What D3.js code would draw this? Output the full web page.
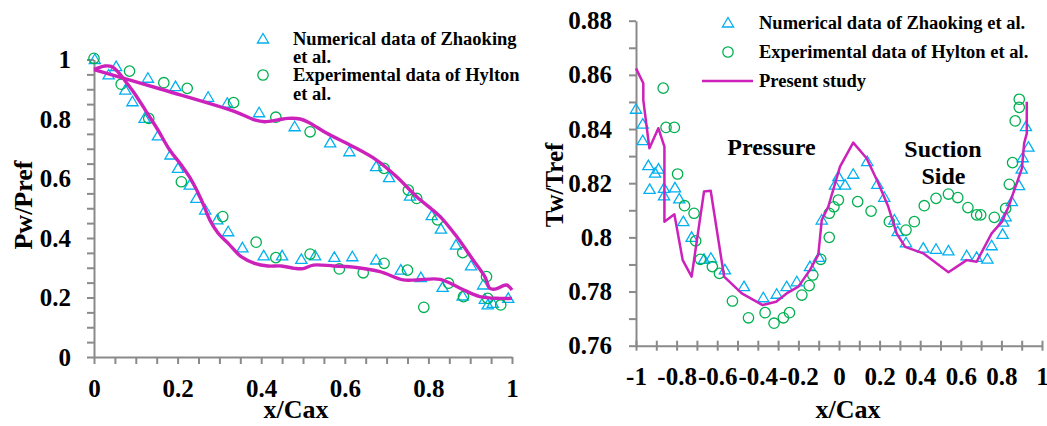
<!DOCTYPE html>
<html><head><meta charset="utf-8">
<script src="https://cdn.jsdelivr.net/npm/d3@7"></script>
<style>
body{margin:0;background:#fff;}
svg{display:block;}
text{font-family:"Liberation Serif","Times New Roman",serif;font-weight:bold;fill:#000;}
</style></head><body>
<svg id="chart" width="1047" height="426"></svg>
<script>
// ---------- Left panel data: Pw/Pref vs x/Cax ----------
const leftNumerical = [[0.002,1.0],[0.035,0.948],[0.053,0.976],[0.075,0.897],[0.092,0.858],[0.121,0.802],[0.129,0.937],[0.153,0.743],[0.183,0.679],[0.195,0.909],[0.201,0.634],[0.229,0.578],[0.245,0.533],[0.266,0.494],[0.273,0.873],[0.295,0.461],[0.319,0.853],[0.321,0.421],[0.355,0.367],[0.395,0.821],[0.406,0.340],[0.450,0.340],[0.480,0.774],[0.496,0.328],[0.529,0.340],[0.565,0.720],[0.575,0.335],[0.611,0.690],[0.618,0.337],[0.675,0.640],[0.675,0.326],[0.706,0.603],[0.734,0.292],[0.756,0.541],[0.782,0.267],[0.808,0.475],[0.830,0.430],[0.834,0.234],[0.866,0.376],[0.882,0.205],[0.902,0.306],[0.931,0.242],[0.935,0.194],[0.942,0.175],[0.954,0.180],[0.991,0.197]];
const leftExperimental = [[0.0,1.004],[0.085,0.961],[0.065,0.917],[0.167,0.922],[0.223,0.903],[0.334,0.855],[0.131,0.802],[0.435,0.806],[0.209,0.589],[0.308,0.472],[0.388,0.386],[0.435,0.334],[0.517,0.757],[0.694,0.634],[0.752,0.561],[0.772,0.533],[0.822,0.461],[0.882,0.351],[0.939,0.270],[0.517,0.346],[0.587,0.296],[0.644,0.283],[0.694,0.315],[0.750,0.292],[0.848,0.248],[0.884,0.203],[0.789,0.167],[0.942,0.197],[0.973,0.175]];
const leftPresentSuction = [[0,0.966],[0.026,0.978],[0.041,0.977],[0.057,0.959],[0.073,0.931],[0.097,0.886],[0.125,0.825],[0.153,0.763],[0.181,0.696],[0.209,0.645],[0.233,0.595],[0.257,0.528],[0.277,0.461],[0.297,0.416],[0.321,0.382],[0.352,0.337],[0.384,0.315],[0.416,0.306],[0.448,0.306],[0.480,0.298],[0.500,0.297],[0.525,0.309],[0.573,0.306],[0.628,0.301],[0.684,0.287],[0.740,0.259],[0.772,0.259],[0.828,0.261],[0.876,0.231],[0.923,0.203],[0.971,0.197],[1.0,0.197]];
const leftPresentPressure = [[0,0.966],[0.161,0.900],[0.337,0.825],[0.384,0.797],[0.408,0.791],[0.440,0.797],[0.464,0.802],[0.493,0.800],[0.517,0.786],[0.557,0.752],[0.612,0.713],[0.676,0.662],[0.724,0.606],[0.772,0.539],[0.828,0.472],[0.868,0.404],[0.907,0.326],[0.935,0.270],[0.947,0.231],[0.959,0.228],[0.987,0.242],[1.0,0.225]];
const leftXTickLabels = [0,0.2,0.4,0.6,0.8,1];
const leftYTickLabels = [0,0.2,0.4,0.6,0.8,1];

// ---------- Right panel data: Tw/Tref vs x/Cax ----------
const rightNumerical = [[-1.0,0.8473],[-0.967,0.8418],[-0.967,0.8357],[-0.939,0.8265],[-0.906,0.8237],[-0.889,0.8252],[-0.933,0.8177],[-0.862,0.8181],[-0.862,0.8153],[-0.808,0.8183],[-0.787,0.8142],[-0.767,0.8058],[-0.726,0.8000],[-0.665,0.7919],[-0.631,0.7923],[-0.562,0.7880],[-0.468,0.7818],[-0.373,0.7777],[-0.307,0.7790],[-0.258,0.7818],[-0.208,0.7836],[-0.143,0.7892],[-0.099,0.7926],[-0.085,0.8064],[-0.020,0.8193],[-0.003,0.8224],[0.030,0.8193],[0.070,0.8233],[0.139,0.8280],[0.189,0.8196],[0.223,0.8148],[0.273,0.8064],[0.289,0.8021],[0.330,0.7980],[0.415,0.7960],[0.478,0.7956],[0.539,0.7950],[0.629,0.7932],[0.678,0.7926],[0.731,0.7920],[0.752,0.7969],[0.806,0.8011],[0.809,0.8056],[0.821,0.8076],[0.851,0.8132],[0.887,0.8191],[0.900,0.8252],[0.905,0.8294],[0.933,0.8333],[0.921,0.8409]];
const rightExperimental = [[-0.866,0.8551],[-0.852,0.8406],[-0.811,0.8406],[-0.795,0.8234],[-0.761,0.8117],[-0.714,0.8089],[-0.706,0.7987],[-0.683,0.7919],[-0.624,0.7892],[-0.589,0.7867],[-0.525,0.7765],[-0.446,0.7703],[-0.364,0.7722],[-0.320,0.7683],[-0.274,0.7703],[-0.244,0.7722],[-0.183,0.7787],[-0.147,0.7822],[-0.129,0.7861],[-0.090,0.7919],[-0.048,0.8000],[-0.048,0.8089],[-0.025,0.8113],[-0.003,0.8138],[0.092,0.8132],[0.158,0.8097],[0.248,0.8058],[0.330,0.8027],[0.371,0.8058],[0.420,0.8117],[0.478,0.8144],[0.539,0.8160],[0.585,0.8147],[0.635,0.8110],[0.678,0.8083],[0.698,0.8083],[0.765,0.8074],[0.821,0.8107],[0.839,0.8196],[0.855,0.8276],[0.868,0.8430],[0.888,0.8480],[0.888,0.8510]];
const rightPresent = [[-1.0,0.8624],[-0.964,0.8569],[-0.964,0.8507],[-0.934,0.8329],[-0.890,0.8403],[-0.860,0.8335],[-0.860,0.8058],[-0.811,0.8085],[-0.770,0.7916],[-0.726,0.7855],[-0.665,0.8169],[-0.632,0.8172],[-0.566,0.7855],[-0.479,0.7793],[-0.376,0.7750],[-0.310,0.7762],[-0.258,0.7793],[-0.200,0.7818],[-0.143,0.7880],[-0.102,0.7935],[-0.085,0.8064],[-0.053,0.8113],[0.005,0.8261],[0.070,0.8350],[0.136,0.8292],[0.194,0.8200],[0.243,0.8113],[0.284,0.8015],[0.326,0.7965],[0.415,0.7941],[0.539,0.7871],[0.629,0.7916],[0.678,0.7910],[0.752,0.8015],[0.803,0.8058],[0.835,0.8113],[0.901,0.8255],[0.912,0.8347],[0.925,0.8384],[0.925,0.8501]];
const rightXTickLabels = [-1,-0.8,-0.6,-0.4,-0.2,0,0.2,0.4,0.6,0.8,1];
const rightYTickLabels = [0.76,0.78,0.8,0.82,0.84,0.86,0.88];

const legendLabels = ["Numerical data of Zhaoking et al.","Experimental data of Hylton et al.","Present study"];

// ---------- styles ----------
const C_TRI = "#00B0F0", C_CIR = "#00B050", C_LINE = "#CC22BB", C_AXIS = "#8a8a8a";
const svg = d3.select("#chart");
const fmt = d => String(+d.toFixed(2));

function triPath(){ return "M0,-5.5L5.6,4L-5.6,4Z"; }

function styleAxis(g){
  g.select(".domain").attr("stroke", C_AXIS).attr("stroke-width", 2);
  g.selectAll(".tick line").attr("stroke", C_AXIS).attr("stroke-width", 2);
}
function styleLabels(g){
  g.select(".domain").remove();
  g.selectAll(".tick line").remove();
  g.selectAll("text").style("font-size","25px").style("font-family",'"Liberation Serif",serif').style("font-weight","bold").attr("fill","#000");
}

// ---------- LEFT PANEL ----------
const xL = d3.scaleLinear().domain([0,1]).range([94,512]);
const yL = d3.scaleLinear().domain([0,1]).range([357,59.5]);
const L = svg.append("g");

L.append("g").attr("transform","translate(0,357)")
  .call(d3.axisBottom(xL).tickValues(d3.range(0,1.0001,0.05)).tickSize(7).tickSizeOuter(0).tickFormat(""))
  .call(styleAxis);
L.append("g").attr("transform","translate(94,0)")
  .call(d3.axisLeft(yL).tickValues(d3.range(0,1.0001,0.05)).tickSize(7).tickSizeOuter(0).tickFormat(""))
  .call(styleAxis);
L.append("g").attr("transform","translate(0,357)")
  .call(d3.axisBottom(xL).tickValues(leftXTickLabels).tickSize(0).tickPadding(22).tickFormat(fmt))
  .call(styleLabels);
L.append("g").attr("transform","translate(94,0)")
  .call(d3.axisLeft(yL).tickValues(leftYTickLabels).tickSize(0).tickPadding(23).tickFormat(fmt))
  .call(styleLabels);

L.append("g").selectAll("path").data(leftNumerical).join("path")
  .attr("d", triPath()).attr("transform", d => `translate(${xL(d[0])},${yL(d[1])})`)
  .attr("fill","none").attr("stroke",C_TRI).attr("stroke-width",1.3);
L.append("g").selectAll("circle").data(leftExperimental).join("circle")
  .attr("cx", d => xL(d[0])).attr("cy", d => yL(d[1])).attr("r",5.2)
  .attr("fill","none").attr("stroke",C_CIR).attr("stroke-width",1.3);
const lineL = d3.line().x(d => xL(d[0])).y(d => yL(d[1])).curve(d3.curveCatmullRom.alpha(0.5));
[leftPresentSuction, leftPresentPressure].forEach(s => {
  L.append("path").attr("d", lineL(s)).attr("fill","none").attr("stroke",C_LINE).attr("stroke-width",3.4).attr("stroke-linejoin","round");
});

L.append("text").attr("x",296).attr("y",418).attr("text-anchor","middle").style("font-size","26px").text("x/Cax");
L.append("text").attr("transform","translate(32,205) rotate(-90)").attr("text-anchor","middle").style("font-size","26px").text("Pw/Pref");

// left legend
L.append("path").attr("d",triPath()).attr("transform","translate(263,39)").attr("fill","none").attr("stroke",C_TRI).attr("stroke-width",1.3);
L.append("circle").attr("cx",263).attr("cy",75).attr("r",5.2).attr("fill","none").attr("stroke",C_CIR).attr("stroke-width",1.3);
const lgL = [["Numerical data of Zhaoking",45],["et al.",63],["Experimental data of Hylton",81],["et al.",100]];
L.selectAll("text.lg").data(lgL).join("text").attr("class","lg")
  .attr("x",293).attr("y",d=>d[1]).style("font-size","18.5px").text(d=>d[0]);

// ---------- RIGHT PANEL ----------
const xR = d3.scaleLinear().domain([-1,1]).range([636,1042]);
const yR = d3.scaleLinear().domain([0.76,0.88]).range([345.7,20.7]);
const R = svg.append("g");

const xAxR = R.append("g").attr("transform","translate(0,345.7)")
  .call(d3.axisBottom(xR).tickValues(d3.range(-10,10.001,1).map(v=>v/10)).tickSize(5).tickSizeOuter(0).tickFormat(""))
  .call(styleAxis);
xAxR.selectAll(".tick line").attr("y1",-5);
R.append("g").attr("transform","translate(636,0)")
  .call(d3.axisLeft(yR).tickValues(d3.range(76,88.001,1).map(v=>v/100)).tickSize(7).tickSizeOuter(0).tickFormat(""))
  .call(styleAxis);
R.append("g").attr("transform","translate(0,345.7)")
  .call(d3.axisBottom(xR).tickValues(rightXTickLabels).tickSize(0).tickPadding(21.5).tickFormat(fmt))
  .call(styleLabels);
R.append("g").attr("transform","translate(636,0)")
  .call(d3.axisLeft(yR).tickValues(rightYTickLabels).tickSize(0).tickPadding(24).tickFormat(fmt))
  .call(styleLabels);

R.append("g").selectAll("path").data(rightNumerical).join("path")
  .attr("d", triPath()).attr("transform", d => `translate(${xR(d[0])},${yR(d[1])})`)
  .attr("fill","none").attr("stroke",C_TRI).attr("stroke-width",1.3);
R.append("g").selectAll("circle").data(rightExperimental).join("circle")
  .attr("cx", d => xR(d[0])).attr("cy", d => yR(d[1])).attr("r",5.2)
  .attr("fill","none").attr("stroke",C_CIR).attr("stroke-width",1.3);
const lineR = d3.line().x(d => xR(d[0])).y(d => yR(d[1]));
R.append("path").attr("d", lineR(rightPresent)).attr("fill","none").attr("stroke",C_LINE).attr("stroke-width",2.5).attr("stroke-linejoin","round");

R.append("text").attr("x",848).attr("y",418).attr("text-anchor","middle").style("font-size","26px").text("x/Cax");
R.append("text").attr("transform","translate(563,185) rotate(-90)").attr("text-anchor","middle").style("font-size","25px").text("Tw/Tref");

R.append("text").attr("x",771.5).attr("y",155).attr("text-anchor","middle").style("font-size","24px").text("Pressure");
R.append("text").attr("x",943).attr("y",157).attr("text-anchor","middle").style("font-size","24px").text("Suction");
R.append("text").attr("x",943.5).attr("y",183.5).attr("text-anchor","middle").style("font-size","24px").text("Side");

// right legend
R.append("path").attr("d",triPath()).attr("transform","translate(728,23)").attr("fill","none").attr("stroke",C_TRI).attr("stroke-width",1.3);
R.append("circle").attr("cx",728).attr("cy",52).attr("r",5.2).attr("fill","none").attr("stroke",C_CIR).attr("stroke-width",1.3);
R.append("line").attr("x1",702).attr("x2",753).attr("y1",81).attr("y2",81).attr("stroke",C_LINE).attr("stroke-width",2.5);
R.selectAll("text.lg").data(legendLabels).join("text").attr("class","lg")
  .attr("x",759).attr("y",(d,i)=>[29,58,87][i]).style("font-size","18.5px").text(d=>d);
</script>
</body></html>
